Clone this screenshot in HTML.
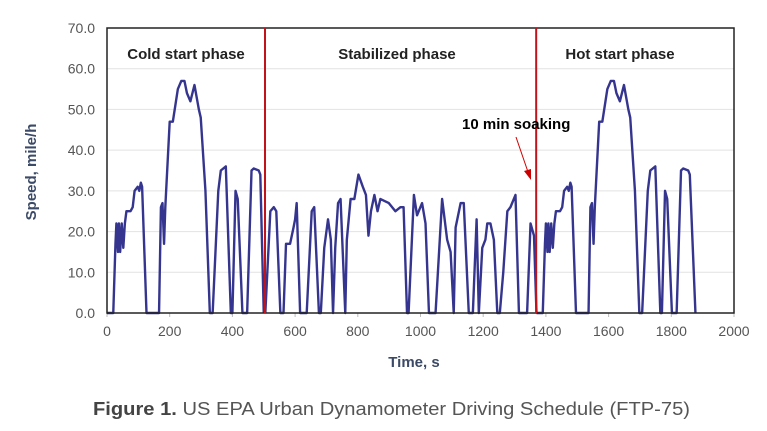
<!DOCTYPE html>
<html><head><meta charset="utf-8"><style>
body{margin:0;background:#fff;width:767px;height:431px;overflow:hidden;font-family:"Liberation Sans",Arial,sans-serif}
</style></head><body>
<svg width="767" height="431" id="chart" style="position:absolute;left:0;top:0">
<g id="grid"></g>
<g id="yticks" font-size="14" fill="#555" text-anchor="end"></g>
<g id="xticks" font-size="14" fill="#555" text-anchor="middle"></g>
<g id="series"></g>
<rect x="107" y="28" width="627" height="285" fill="none" stroke="#222" stroke-width="1.5"/>
<g id="phases"></g>
<text x="186" y="59" font-size="15" font-weight="bold" fill="#222" text-anchor="middle">Cold start phase</text>
<text x="397" y="59" font-size="15" font-weight="bold" fill="#222" text-anchor="middle">Stabilized phase</text>
<text x="620" y="59" font-size="15" font-weight="bold" fill="#222" text-anchor="middle">Hot start phase</text>
<text x="462" y="129" font-size="15" font-weight="bold" fill="#000">10 min soaking</text>
<line x1="516" y1="137" x2="528" y2="172" stroke="#c00" stroke-width="1"/>
<polygon points="531,180 524,171 531,169" fill="#c00"/>
<text transform="translate(36,172) rotate(-90)" font-size="15" font-weight="bold" fill="#3b4a66" text-anchor="middle">Speed, mile/h</text>
<text x="414" y="367" font-size="15" font-weight="bold" fill="#3b4a66" text-anchor="middle">Time, s</text>
<text x="93" y="415" font-size="18" fill="#555" textLength="597" lengthAdjust="spacingAndGlyphs"><tspan font-weight="bold" fill="#444">Figure 1.</tspan> US EPA Urban Dynamometer Driving Schedule (FTP-75)</text>
</svg>
<script>
const yTicks=[0,10,20,30,40,50,60,70];
const xTicks=[0,200,400,600,800,1000,1200,1400,1600,1800,2000];
const phaseBounds=[504,1369];
const coldT=[0,20,27,30,35,38,42,47,52,57,62,75,82,88,98,103,108,112,126,166,172,177,182,186,200,210,226,237,247,255,266,279,293,299,314,328,337,355,363,379,395,400,410,417,432,447,461,468,484,489,500];
const coldV=[0,0,17,22,15,22,15,22,16,22,25,25,26,30,31,30,32,31,0,0,26,27,17,26,47,47,55,57,57,54,52,56,50,48,30,0,0,30,35,36,0,0,30,28,0,0,35,35.5,35,34,0];
const stabT=[505,521,532,540,553,563,571,584,595,600,605,616,637,653,661,676,682,693,705,714,721,728,737,745,760,765,777,789,802,816,826,834,842,853,863,872,899,920,936,946,957,962,979,989,1005,1016,1027,1048,1069,1085,1096,1106,1112,1128,1138,1154,1167,1179,1186,1197,1207,1213,1223,1234,1245,1253,1264,1277,1287,1303,1314,1340,1351,1362,1370];
const stabV=[0,25,26,25,0,0,17,17,21,23,27,0,0,25,26,0,0,16,23,18,0,16,27,28,0,18,28,28,34,31,29,19,25,29,25,28,27,25,26,26,0,0,29,24,27,22,0,0,28,18,15,0,21,27,27,0,0,23,0,16,18,22,22,18,0,0,10,25,26,29,0,0,22,19,0];
const hotT=[1370,1390,1397,1400,1405,1408,1412,1417,1422,1427,1432,1445,1452,1458,1468,1473,1478,1482,1496,1536,1542,1547,1552,1556,1570,1580,1596,1607,1617,1625,1636,1649,1663,1669,1684,1698,1707,1725,1733,1749,1765,1770,1780,1787,1802,1817,1831,1838,1854,1859,1877];
const hotV=[0,0,17,22,15,22,15,22,16,22,25,25,26,30,31,30,32,31,0,0,26,27,17,26,47,47,55,57,57,54,52,56,50,48,30,0,0,30,35,36,0,0,30,28,0,0,35,35.5,35,34,0];
const NS='http://www.w3.org/2000/svg';
const X0=107,X1=734,Y0=313,Y1=28;
const xs=t=>X0+(t/2000)*(X1-X0);
const ys=v=>Y0-(v/70)*(Y0-Y1);
function mk(tag,attrs,parent){const e=document.createElementNS(NS,tag);for(const k in attrs)e.setAttribute(k,attrs[k]);parent.appendChild(e);return e;}
const grid=document.getElementById('grid'),yt=document.getElementById('yticks'),xt=document.getElementById('xticks');
yTicks.forEach(v=>{
 const l=mk('line',{x1:X0,x2:X1,y1:ys(v),y2:ys(v),stroke:'#e2e2e2','stroke-width':1},grid);
 
 
 const t=mk('text',{x:X0-12,y:ys(v)+5},yt);t.textContent=v.toFixed(1);
 
 
});
xTicks.forEach(v=>{
 const t=mk('text',{x:xs(v),y:336},xt);t.textContent=v;
 
 
 const k=mk('line',{x1:xs(v),x2:xs(v),y1:Y0,y2:Y0+4,stroke:'#bbb'},grid);
 
 
});
const ser=document.getElementById('series');
[[coldT,coldV,'cold-phase-line'],[stabT,stabV,'stabilized-phase-line'],[hotT,hotV,'hot-phase-line']].forEach(([T,V,n])=>{
 const p=mk('polyline',{points:T.map((t,i)=>xs(t)+','+ys(V[i])).join(' '),fill:'none',stroke:'#35358f','stroke-width':2.4,'stroke-linejoin':'round'},ser);
 
 
});
const ph=document.getElementById('phases');
phaseBounds.forEach(t=>{
 const l=mk('line',{x1:xs(t),x2:xs(t),y1:Y1,y2:Y0,stroke:'#c0141a','stroke-width':2},ph);
 
 
});
</script>
</body></html>
